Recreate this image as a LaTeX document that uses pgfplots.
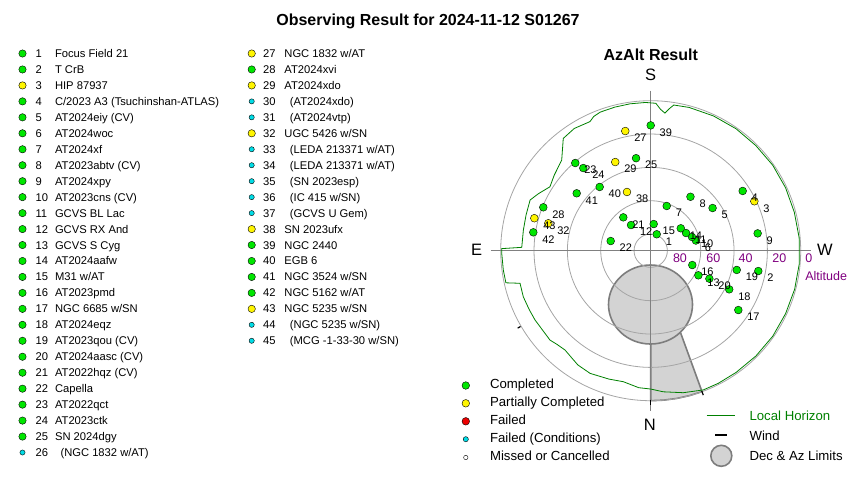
\documentclass[border=0pt]{standalone}
\usepackage{pgfplots}
\pgfplotsset{compat=1.18}
\usepackage{pgfplotstable}
\usepackage{fontspec}
\setmainfont{Liberation Sans}

\definecolor{okgreen}{RGB}{0,230,0}
\definecolor{partyel}{RGB}{255,245,0}
\definecolor{failred}{RGB}{235,0,0}
\definecolor{condcyan}{RGB}{0,220,230}
\definecolor{horizon}{RGB}{0,128,0}
\definecolor{altpurple}{RGB}{128,0,128}
\definecolor{gridgray}{RGB}{165,165,165}
\definecolor{axgray}{RGB}{128,128,128}
\definecolor{limfill}{RGB}{211,211,211}
\definecolor{limedge}{RGB}{125,125,125}

\newcommand\lst{\fontsize{11.2}{13}\selectfont}
\newcommand\lgd{\fontsize{13.2}{15}\selectfont}
\newcommand\ttl{\fontsize{16}{18}\selectfont\bfseries}
\newcommand\cmp{\fontsize{16.5}{18}\selectfont}
\newcommand\altf{\fontsize{12.5}{14}\selectfont}
\newcommand\ptl{\fontsize{11}{13}\selectfont}

% centre of the AzAlt plot (px) and az/alt -> px
\newcommand\cx{650.7}
\newcommand\cy{250.7}
\newcommand\azx{\cx-(90-\thisrow{alt})*5/3*sin(\thisrow{az})}
\newcommand\azy{\cy+(90-\thisrow{alt})*5/3*cos(\thisrow{az})}

% target list: s = 0 completed, 1 partial, 2 failed (conditions)
\pgfplotstableread[col sep=comma]{
id,col,s,name
1,1,0,Focus Field 21
2,1,0,T CrB
3,1,1,HIP 87937
4,1,0,C/2023 A3 (Tsuchinshan-ATLAS)
5,1,0,AT2024eiy (CV)
6,1,0,AT2024woc
7,1,0,AT2024xf
8,1,0,AT2023abtv (CV)
9,1,0,AT2024xpy
10,1,0,AT2023cns (CV)
11,1,0,GCVS BL Lac
12,1,0,GCVS RX And
13,1,0,GCVS S Cyg
14,1,0,AT2024aafw
15,1,0,M31 w/AT
16,1,0,AT2023pmd
17,1,0,NGC 6685 w/SN
18,1,0,AT2024eqz
19,1,0,AT2023qou (CV)
20,1,0,AT2024aasc (CV)
21,1,0,AT2022hqz (CV)
22,1,0,Capella
23,1,0,AT2022qct
24,1,0,AT2023ctk
25,1,0,SN 2024dgy
26,1,2,(NGC 1832 w/AT)
27,2,1,NGC 1832 w/AT
28,2,0,AT2024xvi
29,2,1,AT2024xdo
30,2,2,(AT2024xdo)
31,2,2,(AT2024vtp)
32,2,1,UGC 5426 w/SN
33,2,2,(LEDA 213371 w/AT)
34,2,2,(LEDA 213371 w/AT)
35,2,2,(SN 2023esp)
36,2,2,(IC 415 w/SN)
37,2,2,(GCVS U Gem)
38,2,1,SN 2023ufx
39,2,0,NGC 2440
40,2,0,EGB 6
41,2,0,NGC 3524 w/SN
42,2,0,NGC 5162 w/AT
43,2,1,NGC 5235 w/SN
44,2,2,(NGC 5235 w/SN)
45,2,2,(MCG -1-33-30 w/SN)
}\targets

% observed positions (azimuth from N through E, altitude)
\pgfplotstableread{
id az alt s
1 200.1 79.5 0
2 280.7 24.3 0
3 244.5 21.1 1
4 237.0 24.2 0
5 235.4 44.9 0
6 257.3 62.2 0
7 199.7 61.5 0
8 216.4 49.8 0
9 260.8 25.0 0
10 251.6 63.9 0
11 243.4 66.3 0
12 142.5 70.6 0
13 297.3 57.8 0
14 233.3 67.5 0
15 186.4 73.9 0
16 289.0 63.6 0
17 304.1 26.5 0
18 296.2 37.5 0
19 282.6 37.1 0
20 295.5 51.0 0
21 140.6 64.1 0
22 103.6 65.3 0
23 139.3 20.6 0
24 140.8 26.0 0
25 171.0 33.8 0
27 168.0 16.6 1
28 112.0 20.5 0
29 158.2 32.7 1
32 105.0 26.4 1
38 158.0 52.0 1
39 180.0 14.8 0
40 141.3 41.0 0
41 127.8 33.8 0
42 98.9 18.7 0
43 105.6 17.5 1
}\points

\pgfplotstableread{
az alt
0 7
5 7.5
11.8 9.7
18 9
26.3 7.9
32.5 8.7
36 10
40.8 11.3
45 10.5
48.4 9.2
54 9.5
59.1 9.1
64 9.0
70.1 8.7
76 9.2
77.5 1.0
82.5 0.8
89 0.6
90.8 0.6
91.5 12.6
99.2 12.6
106 12.2
112.8 11.5
117 14.5
122.4 18.4
128 16.5
135.5 13.8
142.1 4.6
148 3.5
154.8 4.4
157 2.5
160 1.5
166 1.2
172 1.0
178 1.0
182 1.5
184 5
185.9 7
187.5 4
189 1.5
195 1.0
205 0.8
215 0.7
225 0.8
235 0.6
245 0.7
255 0.8
265 0.6
275 0.5
285 0.6
295 0.7
305 0.6
315 0.7
325 0.8
333 0.7
339.3 0.7
347.1 2.6
354.9 5
360 7
}\horizonline

\pgfplotstableread{
az alt
0 57.7
0 0
355 0
350 0
345 0
340 0
340 37.4
}\limits

\begin{document}
\begin{tikzpicture}
\useasboundingbox (0,0) rectangle (850pt,480pt);
\begin{axis}[
    width=850pt, height=480pt, scale only axis,
    xmin=0, xmax=850, ymin=0, ymax=480, y dir=reverse,
    hide axis, clip=false,
    every node/.style={inner sep=0pt},
    dot/.style={only marks, mark=*, mark size=3.9pt,
        mark options={draw=black!85, line width=0.6pt}},
]
% titles
\node[anchor=base, font=\ttl] at (428,25.5) {Observing Result for 2024-11-12 S01267};
\node[anchor=base, font=\ttl] at (650.8,60) {AzAlt Result};

% ---- target list ----
\addplot[dot, mark size=3.7pt, mark options={fill=okgreen}, restrict expr to domain={\thisrow{s}}{0:0}]
    table[x expr={22.5+229.2*(\thisrow{col}-1)}, y expr={53.5+15.96*(\thisrow{id}-1-26*(\thisrow{col}-1))}] {\targets};
\addplot[dot, mark size=3.7pt, mark options={fill=partyel}, restrict expr to domain={\thisrow{s}}{1:1}]
    table[x expr={22.5+229.2*(\thisrow{col}-1)}, y expr={53.5+15.96*(\thisrow{id}-1-26*(\thisrow{col}-1))}] {\targets};
\addplot[dot, mark size=2.6pt, mark options={fill=condcyan}, restrict expr to domain={\thisrow{s}}{2:2}]
    table[x expr={22.5+229.2*(\thisrow{col}-1)}, y expr={53.5+15.96*(\thisrow{id}-1-26*(\thisrow{col}-1))}] {\targets};
\addplot[only marks, mark=none, nodes near coords, point meta=explicit symbolic,
    every node near coord/.append style={anchor=base west, font=\lst}]
    table[x expr={32+227.5*(\thisrow{col}-1)}, y expr={57.5+15.96*(\thisrow{id}-1-26*(\thisrow{col}-1))}, meta=id] {\targets};
\addplot[only marks, mark=none, nodes near coords, point meta=explicit symbolic,
    every node near coord/.append style={anchor=base west, font=\lst}]
    table[x expr={51.5+229.4*(\thisrow{col}-1)+2.75*\thisrow{s}*(\thisrow{s}-1)}, y expr={57.5+15.96*(\thisrow{id}-1-26*(\thisrow{col}-1))}, meta=name] {\targets};

% ---- AzAlt plot ----
% Dec & Az limits
\addplot[fill=limfill, draw=none] table[x expr=\azx, y expr=\azy] {\limits};
\addplot[limedge, line width=1.6pt] table[x expr=\azx, y expr=\azy, skip first n=2] {\limits};
\draw[limedge, line width=1.6pt, fill=limfill] (650.5,304.5) ellipse[x radius=42pt, y radius=39.5pt];
% altitude rings and axes
\draw[gridgray, line width=0.8pt] (\cx,\cy) circle[radius=150pt];
\draw[gridgray, line width=0.8pt] (\cx,\cy) circle[radius=116.67pt];
\draw[gridgray, line width=0.8pt] (\cx,\cy) circle[radius=83.33pt];
\draw[gridgray, line width=0.8pt] (\cx,\cy) circle[radius=50pt];
\draw[gridgray, line width=0.8pt] (\cx,\cy) circle[radius=16.67pt];
\draw[axgray, line width=0.8pt] (\cx,90.7) -- (\cx,410.7);
\draw[axgray, line width=0.8pt] (490.7,\cy) -- (810.7,\cy);
% local horizon
\addplot[horizon, line width=0.8pt] table[x expr=\azx, y expr=\azy] {\horizonline};
% wind
\addplot[black, line width=1.5pt] table[x expr=\azx, y expr=\azy] {
az alt
0 0.6
0 -2.4
};
\addplot[black, line width=1.2pt] table[x expr=\azx, y expr=\azy] {
az alt
340 0.4
340 -2.2
};
\addplot[black, line width=1.2pt] table[x expr=\azx, y expr=\azy] {
az alt
59.8 -0.4
59.8 -2.4
};
% targets
\addplot[dot, mark options={fill=okgreen}, restrict expr to domain={\thisrow{s}}{0:0}]
    table[x expr=\azx, y expr=\azy] {\points};
\addplot[dot, mark options={fill=partyel}, restrict expr to domain={\thisrow{s}}{1:1}]
    table[x expr=\azx, y expr=\azy] {\points};
\addplot[only marks, mark=none, nodes near coords, point meta=explicit symbolic,
    every node near coord/.append style={anchor=west, xshift=5.5pt, yshift=-7pt, font=\ptl}]
    table[x expr=\azx, y expr=\azy, meta=id] {\points};

% compass and altitude scale
\node[anchor=base, font=\cmp] at (650.5,80) {S};
\node[anchor=base, font=\cmp] at (649.7,430) {N};
\node[anchor=base, font=\cmp] at (476.5,255) {E};
\node[anchor=base, font=\cmp] at (825,255) {W};
\node[anchor=base west, font=\altf, text=altpurple] at (669.5,262) {80};
\node[anchor=base west, font=\altf, text=altpurple] at (702.8,262) {60};
\node[anchor=base west, font=\altf, text=altpurple] at (735.2,262) {40};
\node[anchor=base west, font=\altf, text=altpurple] at (768.8,262) {20};
\node[anchor=base west, font=\altf, text=altpurple] at (801.8,262) {0};
\node[anchor=base west, font=\altf, text=altpurple] at (801.8,280) {Altitude};

% ---- legends ----
\addplot[dot, mark size=3.8pt, mark options={fill=okgreen}] coordinates {(465.8,385.5)};
\addplot[dot, mark size=3.8pt, mark options={fill=partyel}] coordinates {(465.8,403.3)};
\addplot[dot, mark size=3.8pt, mark options={fill=failred}] coordinates {(465.8,421.3)};
\addplot[dot, mark size=2.6pt, mark options={fill=condcyan}] coordinates {(465.8,439.2)};
\addplot[dot, mark size=2.2pt, mark options={fill=white}] coordinates {(465.8,457.5)};
\node[anchor=base west, font=\lgd] at (486.5,388.3) {Completed};
\node[anchor=base west, font=\lgd] at (486.5,406.3) {Partially Completed};
\node[anchor=base west, font=\lgd] at (486.5,424.3) {Failed};
\node[anchor=base west, font=\lgd] at (486.5,442.3) {Failed (Conditions)};
\node[anchor=base west, font=\lgd] at (486.5,460.3) {Missed or Cancelled};

\addplot[horizon, line width=0.8pt] coordinates {(706.7,415) (735,415)};
\addplot[black, line width=2pt] coordinates {(715,435) (726.7,435)};
\addplot[only marks, mark=*, mark size=10.5pt, mark options={fill=limfill, draw=limedge, line width=1.6pt}] coordinates {(721.3,455.8)};
\node[anchor=base west, font=\lgd, text=horizon] at (746,420) {Local Horizon};
\node[anchor=base west, font=\lgd] at (746,440) {Wind};
\node[anchor=base west, font=\lgd] at (746,460.7) {Dec \& Az Limits};
\end{axis}
\end{tikzpicture}
\end{document}
